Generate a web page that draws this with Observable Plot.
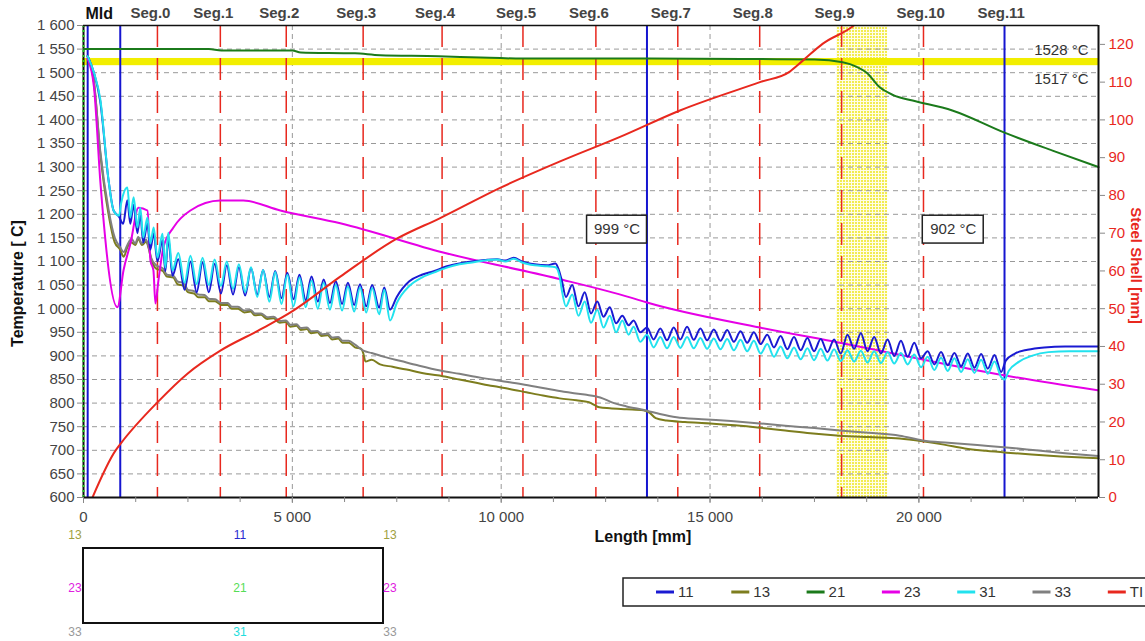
<!DOCTYPE html>
<html><head><meta charset="utf-8">
<script src="https://cdn.jsdelivr.net/npm/d3@7"></script>
<script src="https://cdn.jsdelivr.net/npm/@observablehq/plot@0.6"></script>
<style>body{margin:0;background:#fff;font-family:"Liberation Sans",Arial,sans-serif}</style>
</head><body><div id="chart"></div>
<script>
// ---- data (x = length [mm], y = temperature [°C]) ----
const s11 = [[100,1535],[250,1500],[400,1440],[600,1272],[720,1208],[850,1195],[950,1180],[1050,1230],[1120,1180],[1200,1220],[1290,1160],[1360,1200],[1430,1140],[1530,1180],[1600,1125],[1680,1160],[1770,1100],[1890,1145],[1960,1080],[2030,1150],[2130,1070],
[2270,1105],[2420,1040],[2560,1100],[2710,1035],[2850,1098],[3000,1035],[3140,1095],[3290,1032],[3430,1092],[3580,1030],[3720,1088],[3870,1028],[4010,1086],[4160,1030],[4300,1082],[4450,1025],[4590,1080],[4740,1022],[4880,1076],[5030,1020],[5170,1072],[5320,1018],[5460,1068],[5610,1015],[5750,1062],[5900,1012],[6040,1058],[6190,1010],[6330,1055],[6480,1008],[6620,1052],[6770,1005],[6910,1050],[7080,1002],[7200,1045],[7340,998],
[7500,1025],[7800,1058],[8100,1072],[8400,1080],[8700,1090],[9000,1096],[9300,1100],[9600,1103],[9900,1105],[10100,1102],[10300,1108],[10500,1100],[10800,1094],[11100,1092],[11300,1096],[11380,1082],[11450,1060],[11550,1025],[11700,1050],[11850,1005],[12000,1035],[12150,990],[12300,1015],[12450,983],[12600,1003],[12750,969],[12900,985],[13050,965],[13170,975],[13330,950],[13490,960],
[13650,935],[13810,958],[13970,933],[14130,960],[14290,935],[14450,962],[14610,934],[14770,958],[14930,933],[15090,956],[15250,932],[15410,955],[15570,930],[15730,952],[15890,928],[16050,950],[16210,925],[16370,945],[16530,918],[16690,942],[16850,914],[17010,940],[17170,912],[17330,938],[17490,910],[17650,936],[17810,908],[17970,935],[18130,905],[18290,945],[18450,915],[18610,948],[18770,910],[18930,940],[19090,905],[19250,935],[19410,900],[19570,932],[19730,898],[19890,928],[20050,895],[20210,910],[20370,882],[20530,908],[20690,880],[20850,906],[21010,878],[21170,905],[21330,875],[21490,904],[21650,873],[21810,902],[21970,866],[22080,890],[22300,905],[22600,913],[23000,918],[23500,920],[24300,920]];

const s13 = [[100,1535],[250,1480],[400,1330],[600,1200],[750,1140],[880,1125],[960,1110],[1050,1130],[1150,1140],[1240,1135],[1310,1148],[1400,1135],[1500,1142],[1560,1128],[1620,1105],[1740,1085],[1900,1080],[2000,1068],[2150,1066],[2250,1052],[2400,1048],[2500,1035],[2650,1032],[2750,1024],[2900,1024],[3000,1016],[3150,1016],[3300,1008],[3450,1008],[3550,1000],[3700,1000],[3850,992],[4000,994],[4100,986],[4250,987],[4400,978],[4550,980],[4700,970],[4850,972],[4950,962],[5100,964],[5200,955],[5350,957],[5450,948],[5600,950],[5700,942],[5850,944],[5950,935],[6100,937],[6200,928],[6350,928],[6500,918],[6650,915],[6700,905],[6750,888],[6900,892],[7100,882],[7400,877],[7800,870],[8200,862],[8600,857],[9000,850],[9400,843],[9800,836],[10200,830],[10600,823],[11000,816],[11400,810],[11800,806],[12100,802],[12250,795],[12350,791],[12600,789],[13000,787],[13400,785],[13550,780],[13700,768],[13960,763],[14400,760],[15000,757],[15600,753],[16190,748],[16800,742],[17400,736],[18100,731],[18800,728],[19540,725],[20090,719],[20600,712],[21100,704],[21600,699],[22100,695],[22700,691],[23400,687],[24300,683]];

const s21 = [[0,1550],[3000,1550],[3300,1547],[5000,1547],[5200,1543],[6500,1541],[7100,1537],[8500,1535],[9500,1532],[10500,1530],[13500,1530],[16000,1529],[17500,1528],[18176,1522],[18500,1513],[18750,1500],[19064,1469],[19400,1452],[19850,1441],[20800,1420],[22050,1373],[23200,1335],[24300,1300]];

const s23 = [[100,1530],[250,1470],[407,1265],[813,1003],[957,1081],[1124,1138],[1316,1214],[1531,1208],[1603,1102],[1674,1081],[1722,1011],[1794,1060],[1914,1130],[2153,1172],[2559,1208],[3277,1229],[3827,1229],[4712,1208],[6147,1181],[8611,1119],[11338,1064],[13084,1024],[13491,1013],[16194,960],[18108,928],[22102,858],[24279,827]];

const s31 = [[100,1535],[250,1500],[400,1445],[600,1272],[720,1208],[850,1197],[900,1223],[1050,1257],[1120,1193],[1200,1236],[1290,1172],[1360,1214],[1430,1151],[1530,1193],[1600,1138],[1680,1172],[1770,1108],[1890,1159],[1960,1087],[2030,1161],[2130,1081],
[2270,1118],[2420,1055],[2560,1112],[2710,1052],[2850,1108],[3000,1050],[3140,1104],[3290,1048],[3430,1100],[3580,1042],[3720,1094],[3870,1035],[4010,1088],[4160,1025],[4300,1082],[4450,1015],[4590,1078],[4740,1010],[4880,1072],[5030,1005],[5170,1066],[5320,1003],[5460,1060],[5610,1000],[5750,1055],[5900,998],[6040,1050],[6190,996],[6330,1047],[6480,994],[6620,1045],[6770,992],[6910,1044],[7080,988],[7200,1040],[7340,975],
[7500,1012],[7800,1048],[8100,1066],[8400,1077],[8700,1087],[9000,1094],[9300,1098],[9600,1102],[9900,1104],[10100,1100],[10300,1106],[10500,1098],[10800,1092],[11100,1090],[11300,1088],[11400,1068],[11450,1040],[11550,1005],[11700,1030],[11850,985],[12000,1015],[12150,970],[12300,998],[12450,960],[12600,985],[12750,950],[12900,975],[13050,945],[13170,962],[13330,930],[13490,945],[13650,918],[13810,940],[13970,916],[14130,940],[14290,917],[14450,940],[14610,916],[14770,938],[14930,915],[15090,937],[15250,914],[15410,936],[15570,912],[15730,934],[15890,910],[16050,932],[16210,905],[16370,925],[16530,898],[16690,920],[16850,895],[17010,918],[17170,893],[17330,916],[17490,891],[17650,915],[17810,890],[17970,914],[18130,889],[18290,912],[18450,888],[18610,911],[18770,886],[18930,910],[19090,885],[19250,908],[19410,884],[19570,906],[19730,882],[19890,903],[20050,876],[20210,898],[20370,870],[20530,896],[20690,868],[20850,895],[21010,866],[21170,893],[21330,864],[21490,892],[21650,862],[21810,888],[21970,855],[22050,850],[22150,868],[22400,888],[22700,900],[23100,908],[23600,910],[24300,910]];

const s33 = [[100,1535],[250,1480],[400,1335],[600,1210],[750,1150],[880,1130],[960,1120],[1050,1135],[1150,1148],[1240,1138],[1310,1152],[1400,1138],[1500,1146],[1560,1130],[1620,1108],[1740,1092],[1900,1085],[2000,1072],[2150,1070],[2250,1058],[2400,1054],[2500,1040],[2650,1037],[2750,1030],[2900,1029],[3000,1021],[3150,1020],[3300,1012],[3450,1012],[3550,1004],[3700,1004],[3850,996],[4000,997],[4100,990],[4250,990],[4400,982],[4550,983],[4700,974],[4850,975],[4950,966],[5100,967],[5200,959],[5350,960],[5450,952],[5600,953],[5700,946],[5850,947],[5950,939],[6100,940],[6200,932],[6350,932],[6500,924],[6700,911],[6900,906],[7200,898],[7600,889],[8000,880],[8540,869],[9000,862],[9500,854],[10000,847],[10500,840],[11000,832],[11500,824],[12000,818],[12370,812],[12700,800],[13000,793],[13490,784],[13800,777],[14200,770],[14800,766],[15500,762],[16190,757],[16800,752],[17500,747],[18100,742],[18800,737],[19540,731],[20090,721],[20700,716],[21400,711],[22100,706],[22800,700],[23500,694],[24300,688]];

// TI: steel shell thickness [mm] (right axis)
const ti = [[215,0],[765,12.4],[885,14.2],[1770,25.2],[2488,32.8],[3277,38.9],[4234,44.5],[5023,49.5],[6147,58.5],[7511,68.6],[8539,74],[9975,82],[11410,89],[12845,95.5],[14280,102.5],[16194,110],[16911,112.8],[17222,115.7],[17701,120.2],[18419,124.8],[18600,126.5]];

const segNames = ["Seg.0","Seg.1","Seg.2","Seg.3","Seg.4","Seg.5","Seg.6","Seg.7","Seg.8","Seg.9","Seg.10","Seg.11"];
const segBounds = [1770,3276,4854,6695,8585,10521,12267,14228,16189,18150,20110,22047];
const blueMarks = [100,880,13490,22050];
const liquidus = 1528, solidus = 1517;
const zone = [{x1:18030, x2:19250}];
const boxes = [{label:"999 °C", x1:12056, x2:13491, y1:1138, y2:1197},{label:"902 °C", x1:20093, x2:21552, y1:1138, y2:1197}];
const legendKeys = ["11","13","21","23","31","33","TI"];
const colors = {"11":"#1a1ad2","13":"#7d7d1e","21":"#1b7a1b","23":"#e600e6","31":"#22e2ee","33":"#808080","TI":"#e8281e"};
const yTicks = d3.range(600,1601,50);
const rTicks = d3.range(0,121,10);
const xTicks = [0,5000,10000,15000,20000];

// ---- chart ----
const fmt = d => d3.format(",")(d).replace(/,/g," ");
const X = d => d[0], Y = d => d[1];
const toLeft = v => 600 + v*8;
const ZONE_FILL = "#f6f19a";
const ln = (data, key) => Plot.line(data, {x:X, y:Y, stroke:colors[key], strokeWidth:2, curve:"monotone-x"});

const chart = Plot.plot({
  width:1145, height:641, marginLeft:83, marginRight:47, marginTop:25, marginBottom:144,
  style:{fontFamily:'"Liberation Sans", Arial, sans-serif', fontSize:"15px", color:"#444", background:"#fff", overflow:"visible"},
  x:{domain:[0,24300]},
  y:{domain:[600,1600]},
  marks:[
    Plot.rect(zone, {x1:"x1", x2:"x2", y1:()=>600, y2:()=>1600, fill:ZONE_FILL}),
    Plot.ruleY(d3.range(650,1600,50), {stroke:"#999", strokeDasharray:"5,4", strokeWidth:1}),
    Plot.ruleX([5000,10000,15000,20000], {stroke:"#999", strokeDasharray:"5,4", strokeWidth:1}),
    Plot.rect([{a:solidus,b:liquidus}], {x1:()=>0, x2:()=>24300, y1:"a", y2:"b", fill:"#f2ee00", stroke:"#f2ee00", strokeWidth:2}),
    Plot.ruleX(segBounds.slice(0,11), {stroke:"#e8281e", strokeDasharray:"22,11", strokeWidth:1.5}),
    Plot.ruleX(blueMarks, {stroke:"#1515d0", strokeWidth:2}),
    Plot.ruleX([0], {stroke:"#111", strokeWidth:2}),
    Plot.ruleX([0], {stroke:"#2c2", strokeWidth:2, strokeDasharray:"2,3"}),
    ln(s21,"21"), ln(s13,"13"), ln(s33,"33"), ln(s23,"23"), ln(s11,"11"), ln(s31,"31"),
    Plot.line(ti, {x:X, y:d=>toLeft(d[1]), stroke:colors.TI, strokeWidth:2, curve:"monotone-x", clip:true}),
    Plot.ruleY([1600], {stroke:"#111", strokeWidth:1.5}),
    Plot.ruleY([600], {stroke:"#111", strokeWidth:2}),
    Plot.ruleX([24300], {stroke:"#111", strokeWidth:2}),
    // annotations
    Plot.rect(boxes, {x1:"x1", x2:"x2", y1:"y1", y2:"y2", fill:"#fff", stroke:"#222", strokeWidth:1.5}),
    Plot.text(boxes, {x:d=>(d.x1+d.x2)/2, y:d=>(d.y1+d.y2)/2, text:"label", fontSize:15, fill:"#333"}),
    Plot.text([{t:"1528 °C", v:liquidus}], {x:()=>24300, y:"v", text:"t", dx:-10, dy:-9, textAnchor:"end", fontSize:15, fill:"#333"}),
    Plot.text([{t:"1517 °C", v:solidus}], {x:()=>24300, y:"v", text:"t", dx:-10, dy:15, textAnchor:"end", fontSize:15, fill:"#333"}),
    // top labels
    Plot.text(segNames, {x:(d,i)=>segBounds[i], y:()=>1600, text:d=>d, dx:-27, dy:-12, textAnchor:"start", fontSize:15, fontWeight:"bold", fill:"#444"}),
    Plot.text(["Mld"], {x:()=>0, y:()=>1600, text:d=>d, dx:2, dy:-12, textAnchor:"start", fontSize:16, fontWeight:"bold", fill:"#111"}),
    // axes
    Plot.axisY(yTicks, {anchor:"left", tickFormat:fmt, tickSize:6, tickPadding:3, fontSize:15, fill:"#444", stroke:"#888", label:null}),
    Plot.axisY(rTicks.map(toLeft), {anchor:"right", tickFormat:d=>String((d-600)/8), tickSize:6, tickPadding:4, fontSize:15, fill:"#e8281e", stroke:"#888", label:null}),
    Plot.axisX(d3.range(0,24300,1250), {tickFormat:()=>"", tickSize:5, stroke:"#888", label:null}),
    Plot.axisX(xTicks, {tickFormat:fmt, tickSize:6, tickPadding:8, fontSize:15, fill:"#444", stroke:"#888", label:null}),
    Plot.text(["Temperature [ C]"], {frameAnchor:"left", textAnchor:"middle", dx:-66, dy:22, rotate:-90, fontSize:16, fontWeight:"bold", fill:"#111"}),
    Plot.text(["Steel Shell [mm]"], {frameAnchor:"right", textAnchor:"middle", dx:37, dy:4, rotate:90, fontSize:15, fontWeight:"bold", fill:"#e8281e"}),
    Plot.text(["Length [mm]"], {frameAnchor:"bottom-left", dx:511, dy:44, textAnchor:"start", fontSize:16, fontWeight:"bold", fill:"#111"})
  ]
});
document.getElementById("chart").appendChild(chart);

// ---- decorations: dotted zone pattern, section inset, legend ----
const svg = d3.select(chart);
const defs = svg.insert("defs", ":first-child");
const pat = defs.append("pattern").attr("id","ydots").attr("width",3).attr("height",3).attr("patternUnits","userSpaceOnUse");
pat.append("rect").attr("width",3).attr("height",3).attr("fill","#fffde6");
pat.append("rect").attr("width",2).attr("height",2).attr("fill","#f2ec50");
svg.selectAll(`[fill="${ZONE_FILL}"]`).attr("fill","url(#ydots)");

const g = svg.append("g").attr("font-family",'"Liberation Sans", Arial, sans-serif').attr("text-anchor","start");
g.append("rect").attr("x",83).attr("y",548).attr("width",300).attr("height",75).attr("fill","none").attr("stroke","#111").attr("stroke-width",2);
const insetColors = {"11":"#2a2ad0","13":"#a0a040","21":"#55dd55","23":"#e020e0","31":"#22dddd","33":"#999"};
const inset = [["13",75,535],["11",240,535],["13",390,535],["23",75,588],["21",240,588],["23",390,588],["33",75,632],["31",240,632],["33",390,632]];
inset.forEach(([k,x,y]) => g.append("text").attr("x",x).attr("y",y).attr("dy","0.35em").attr("text-anchor","middle").attr("font-size",12).attr("fill",insetColors[k]).text(k));

const lg = g.append("g");
lg.append("rect").attr("x",623).attr("y",578).attr("width",600).attr("height",28).attr("fill","#fff").attr("stroke","#222").attr("stroke-width",1.5);
legendKeys.forEach((k,i) => {
  const x0 = 656 + i*75.3;
  lg.append("line").attr("x1",x0).attr("x2",x0+18).attr("y1",592).attr("y2",592).attr("stroke",colors[k]).attr("stroke-width",3);
  lg.append("text").attr("x",x0+22).attr("y",592).attr("dy","0.35em").attr("text-anchor","start").attr("font-size",15).attr("fill","#333").text(k);
});
</script>
</body></html>
